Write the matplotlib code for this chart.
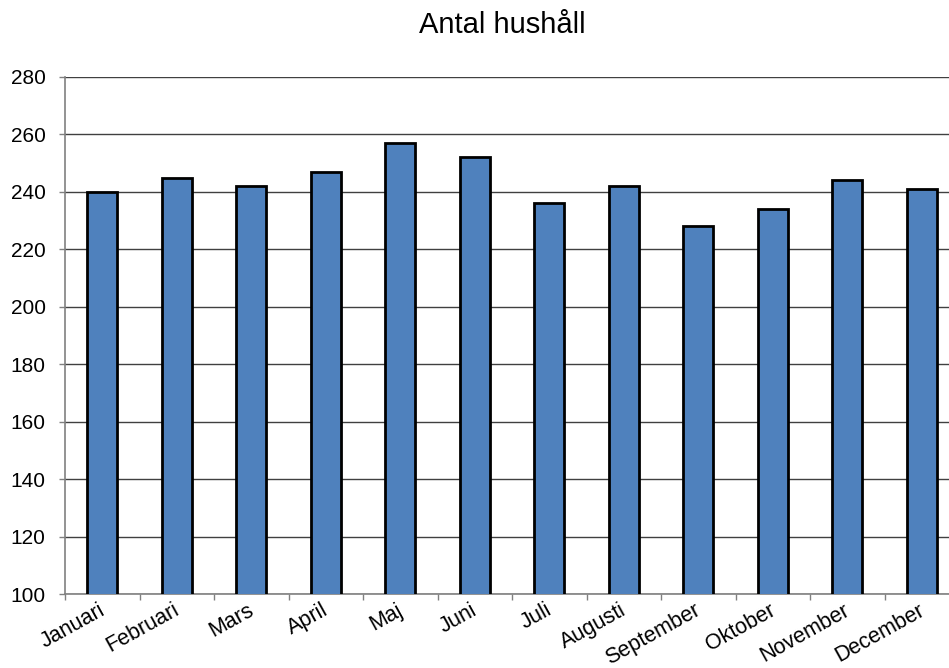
import matplotlib
matplotlib.use("Agg")
import matplotlib.pyplot as plt
import matplotlib.transforms as mtransforms
import numpy as np

months = ["Januari", "Februari", "Mars", "April", "Maj", "Juni", "Juli",
          "Augusti", "September", "Oktober", "November", "December"]
values = [240, 245, 242, 247, 257, 252, 236, 242, 228, 234, 244, 241]
yticks = [100, 120, 140, 160, 180, 200, 220, 240, 260, 280]
title = "Antal hushåll"

plt.rcParams['font.family'] = ['Liberation Sans', 'DejaVu Sans']

W, H = 949, 668
fig = plt.figure(figsize=(W / 100, H / 100), dpi=100)
left, right, top, bottom = 65, 959, 77, 594
ax = fig.add_axes([left / W, 1 - bottom / H, (right - left) / W, (bottom - top) / H])

x = np.arange(len(months))
ax.bar(x, values, width=0.4, bottom=0, color='#4F81BD', edgecolor='black',
       linewidth=2, zorder=3)
ax.set_xlim(-0.5, len(months) - 0.5)
ax.set_ylim(100, 280)
ax.set_yticks(yticks)
ax.set_yticklabels([str(v) for v in yticks], fontsize=15)
ax.yaxis.grid(True, color='#404040', linewidth=1, zorder=0)
ax.set_axisbelow(True)

ax.set_xticks(x)
ax.set_xticklabels(months, rotation=29, ha='right', va='top',
                   rotation_mode='anchor', fontsize=15.5)
ax.tick_params(axis='x', which='major', length=0, pad=4)
shift = mtransforms.ScaledTranslation(-4 / 100, 0, fig.dpi_scale_trans)
for lab in ax.get_xticklabels():
    lab.set_transform(lab.get_transform() + shift)
ax.set_xticks(np.arange(-0.5, len(months), 1.0), minor=True)
ax.tick_params(axis='x', which='minor', length=4, color='#808080', width=1)
ax.tick_params(axis='y', length=4, color='#808080', width=1, pad=10)

for s in ['top', 'right']:
    ax.spines[s].set_visible(False)
ax.spines['left'].set_color('#808080')
ax.spines['bottom'].set_color('#808080')
ax.spines['left'].set_linewidth(1.2)
ax.spines['bottom'].set_linewidth(1.2)

fig.text(502 / W, 1 - 33 / H, title, ha='center', va='baseline', fontsize=21)

fig.savefig("out.png", dpi=100)
